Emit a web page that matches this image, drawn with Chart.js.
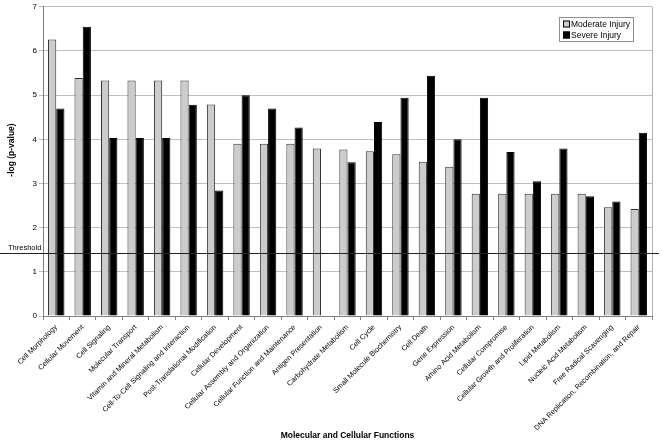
<!DOCTYPE html>
<html><head><meta charset="utf-8">
<script src="https://cdn.jsdelivr.net/npm/chart.js@4/dist/chart.umd.min.js"></script>
<style>html,body{margin:0;padding:0;background:#fff}#wrap{width:662px;height:443px}</style>
</head><body><div id="wrap"><canvas id="c" width="662" height="443"></canvas></div>
<script>
const categories = ["Cell Morphology","Cellular Movement","Cell Signaling","Molecular Transport","Vitamin and Mineral Metabolism","Cell-To-Cell Signaling and Interaction","Post-Translational Modification","Cellular Development","Cellular Assembly and Organization","Cellular Function and Maintenance","Antigen Presentation","Carbohydrate Metabolism","Cell Cycle","Small Molecule Biochemistry","Cell Death","Gene Expression","Amino Acid Metabolism","Cellular Compromise","Cellular Growth and Proliferation","Lipid Metabolism","Nucleic Acid Metabolism","Free Radical Scavenging","DNA Replication, Recombination, and Repair"];
const moderate = [6.26,5.39,5.33,5.33,5.33,5.33,4.79,3.90,3.90,3.90,3.79,3.77,3.73,3.66,3.49,3.38,2.77,2.77,2.77,2.77,2.77,2.46,2.42];
const severe = [4.70,6.55,4.03,4.03,4.03,4.78,2.84,5.00,4.70,4.27,null,3.48,4.39,4.94,5.44,4.00,4.94,3.71,3.05,3.79,2.71,2.59,4.15];
const yTicks = [0,1,2,3,4,5,6,7];
const threshold = 1.42;
const thresholdLabel = "Threshold";
const seriesNames = ["Moderate Injury","Severe Injury"];
const yTitle = "-log (p-value)";
const FONT = "'Liberation Sans', Arial, sans-serif";

const overlay = {
  id: 'overlay',
  afterDraw(chart) {
    const ctx = chart.ctx, a = chart.chartArea, y = chart.scales.y;
    ctx.save();
    ctx.strokeStyle = '#b0b0b0'; ctx.lineWidth = 1;
    ctx.beginPath(); ctx.moveTo(a.right + 0.5, a.top); ctx.lineTo(a.right + 0.5, a.bottom); ctx.stroke();
    const ty = Math.round(y.getPixelForValue(threshold)) + 0.5;
    ctx.strokeStyle = '#222'; ctx.lineWidth = 1;
    ctx.beginPath(); ctx.moveTo(0, ty); ctx.lineTo(chart.width - 3, ty); ctx.stroke();
    ctx.fillStyle = '#000'; ctx.font = "7.5px " + FONT; ctx.textBaseline = 'bottom'; ctx.textAlign = 'left';
    ctx.fillText(thresholdLabel, 8, ty - 2);
    // y title
    ctx.save();
    ctx.translate(12, 150); ctx.rotate(-Math.PI / 2);
    ctx.font = "bold 8.5px " + FONT; ctx.textAlign = 'center'; ctx.textBaseline = 'middle';
    ctx.fillText(yTitle, 0, 0);
    ctx.restore();
    // legend
    const lx = 559, ly = 17, lw = 74, lh = 24;
    ctx.fillStyle = '#fff'; ctx.fillRect(lx, ly, lw, lh);
    ctx.strokeStyle = '#909090'; ctx.strokeRect(lx + 0.5, ly + 0.5, lw, lh);
    ctx.font = "8.5px " + FONT; ctx.textBaseline = 'middle'; ctx.textAlign = 'left';
    chart.data.datasets.forEach((ds, i) => {
      const cy = ly + 7 + i * 11;
      ctx.fillStyle = ds.backgroundColor; ctx.fillRect(lx + 4, cy - 3.5, 7, 7);
      ctx.strokeStyle = '#000'; ctx.strokeRect(lx + 4.5, cy - 3, 6, 6);
      ctx.fillStyle = '#000'; ctx.fillText(ds.label, lx + 12, cy + 0.5);
    });
    ctx.restore();
  }
};

new Chart(document.getElementById('c'), {
  type: 'bar',
  data: {
    labels: categories,
    datasets: [
      { label: seriesNames[0], data: moderate, backgroundColor: '#cccccc', borderColor: '#333333', borderWidth: 1 },
      { label: seriesNames[1], data: severe, backgroundColor: '#000000', borderColor: '#000000', borderWidth: 1 }
    ]
  },
  options: {
    responsive: false, animation: false,
    layout: { padding: { top: 6, right: 10, left: 0, bottom: 0 } },
    datasets: { bar: { categoryPercentage: 0.62, barPercentage: 1.0 } },
    plugins: { legend: { display: false }, tooltip: { enabled: false } },
    scales: {
      x: {
        grid: { display: true, drawOnChartArea: false, offset: true, tickLength: 4, color: '#808080' },
        border: { color: '#808080' },
        ticks: { autoSkip: false, maxRotation: 45, minRotation: 45, font: { family: FONT, size: 7.3 }, color: '#000', padding: 3 },
        title: { display: true, text: 'Molecular and Cellular Functions', font: { family: FONT, size: 8.5, weight: 'bold' }, color: '#000', padding: { top: 0, bottom: 2 } },
        afterFit(s) { s.height = 127; }
      },
      y: {
        min: 0, max: 7,
        afterBuildTicks(s) { s.ticks = yTicks.map(v => ({ value: v })); },
        grid: { color: '#c0c0c0', tickLength: 4 },
        border: { color: '#808080' },
        ticks: { font: { family: FONT, size: 8 }, color: '#000', padding: 2 },
        title: { display: false },
        afterFit(s) { s.width = 43; }
      }
    }
  },
  plugins: [overlay]
});
</script></body></html>
